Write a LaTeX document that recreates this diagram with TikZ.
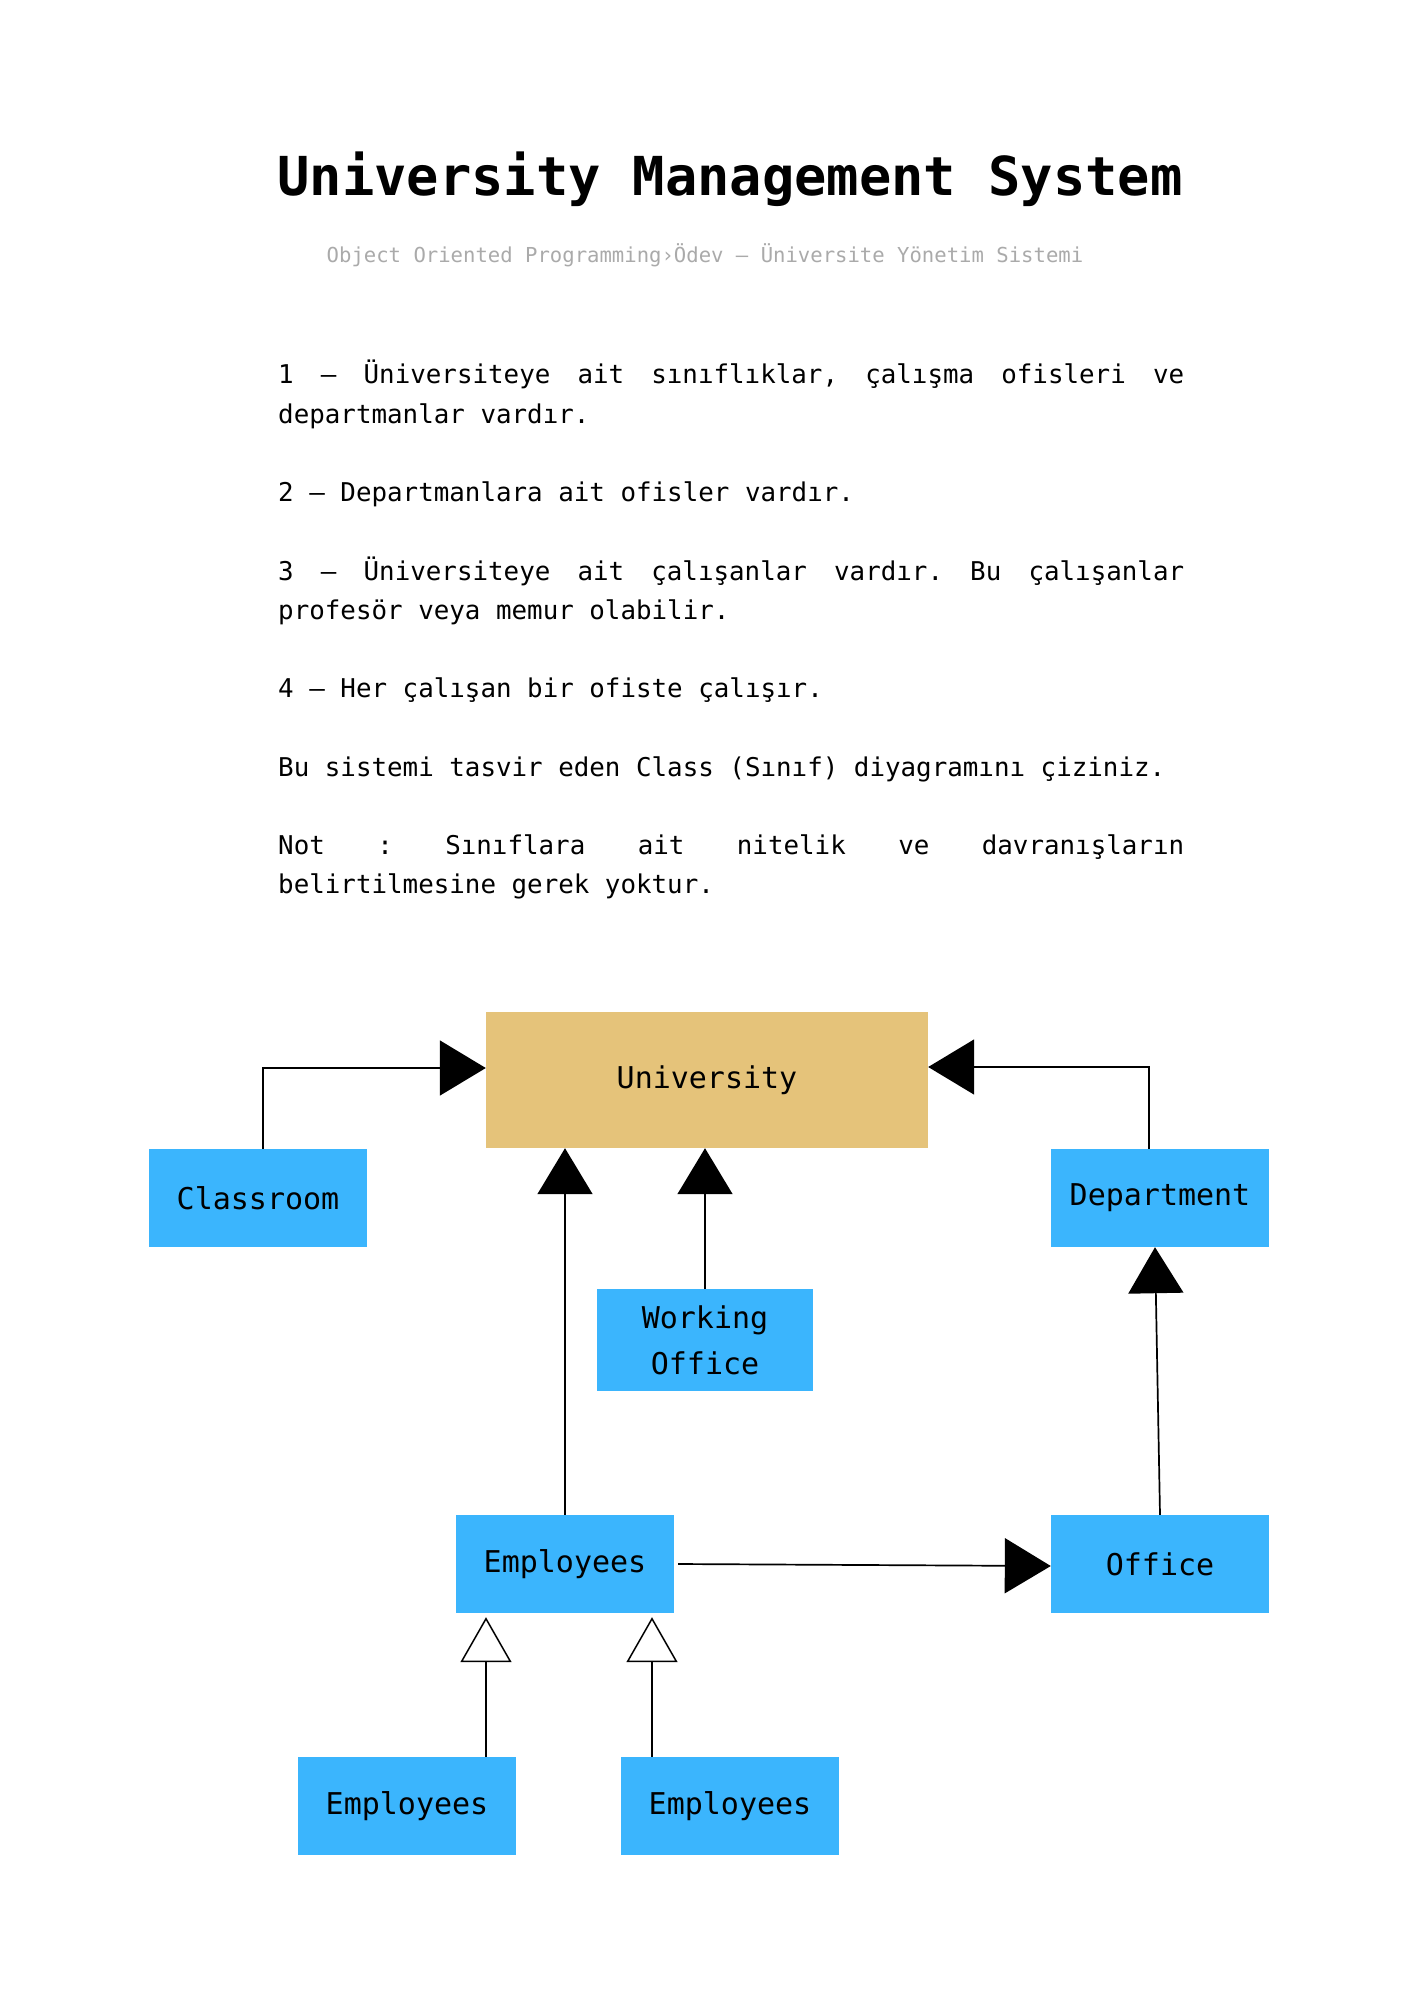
\documentclass[tikz,border=0pt]{standalone}
\usepackage{fontspec}
\setmonofont{DejaVu Sans Mono}
\usetikzlibrary{arrows.meta,calc}
\definecolor{clsblue}{HTML}{3BB5FD}
\definecolor{unitan}{HTML}{E5C37A}
\definecolor{subgray}{HTML}{AAAAAA}

\begin{document}
\begin{tikzpicture}[x=1pt,y=-1pt,
  cls/.style={rectangle, fill=clsblue, inner sep=0pt, minimum width=218pt,
    minimum height=98pt, align=center, font=\ttfamily\fontsize{30}{46}\selectfont},
  txt/.style={anchor=base west, inner sep=0pt, font=\ttfamily\fontsize{25.85}{39.5}\selectfont},
  assoc/.style={line width=1.7pt, -{Triangle[length=46pt,width=55pt]}},
  inherit/.style={line width=1.5pt, -{Triangle[open,length=45pt,width=51pt,fill=white]}}
]
% page
\fill[white] (0,0) rectangle (1414,2000);
\useasboundingbox (0,0) rectangle (1414,2000);

% heading
\node[anchor=base, inner sep=0pt, font=\ttfamily\bfseries\fontsize{53.7}{60}\selectfont]
  (title) at (730,195) {University Management System};
\node[anchor=base, inner sep=0pt, text=subgray, font=\ttfamily\fontsize{20.6}{24}\selectfont]
  (subtitle) at (705,262) {Object Oriented Programming›Ödev – Üniversite Yönetim Sistemi};

% assignment text (justified lines use \hfill between words)
\node[txt] (l1) at (278,383) {\makebox[906pt][l]{1\hfill –\hfill Üniversiteye\hfill ait\hfill sınıflıklar,\hfill çalışma\hfill ofisleri\hfill ve}};
\node[txt] (l2) at (278,423) {departmanlar vardır.};
\node[txt] (l3) at (278,501) {2 – Departmanlara ait ofisler vardır.};
\node[txt] (l4) at (278,580) {\makebox[906pt][l]{3\hfill –\hfill Üniversiteye\hfill ait\hfill çalışanlar\hfill vardır.\hfill Bu\hfill çalışanlar}};
\node[txt] (l5) at (278,619) {profesör veya memur olabilir.};
\node[txt] (l6) at (278,697) {4 – Her çalışan bir ofiste çalışır.};
\node[txt] (l7) at (278,776) {Bu sistemi tasvir eden Class (Sınıf) diyagramını çiziniz.};
\node[txt] (l8) at (278,854) {\makebox[906pt][l]{Not\hfill :\hfill Sınıflara\hfill ait\hfill nitelik\hfill ve\hfill davranışların}};
\node[txt] (l9) at (278,893) {belirtilmesine gerek yoktur.};

% class boxes
\node[cls, fill=unitan, minimum width=442pt, minimum height=136pt] (University) at (707,1080) {University};
\node[cls] (Classroom) at (258,1198) {Classroom};
\node[cls] (Department) at (1160,1198) {Department};
\node[cls, minimum width=216pt, minimum height=102pt] (WorkingOffice) at (705,1340) {Working\\Office};
\node[cls] (Emp) at (565,1564) {Employees};
\node[cls] (Office) at (1160,1564) {Office};
\node[cls] (EmpA) at (407,1806) {Employees};
\node[cls] (EmpB) at (730,1806) {Employees};

% associations
\draw[assoc] ([xshift=5pt]Classroom.north) |- ([yshift=12pt]University.west);
\draw[assoc] ([xshift=-11pt]Department.north) |- ([yshift=13pt]University.east);
\draw[assoc] (Emp.north) -- (Emp.north |- University.south);
\draw[assoc] (WorkingOffice.north) -- (WorkingOffice.north |- University.south);
\draw[assoc] (Office.north) -- ([xshift=-5pt]Department.south);
\draw[assoc] ([xshift=4pt]Emp.east) -- ([yshift=-2pt]Office.west);

% generalizations
\coordinate (ea) at ([xshift=79pt]EmpA.north);
\coordinate (eb) at ([xshift=-78pt]EmpB.north);
\draw[inherit] (ea) -- ($(ea |- Emp.south)+(0,4)$);
\draw[inherit] (eb) -- ($(eb |- Emp.south)+(0,4)$);
\end{tikzpicture}
\end{document}
